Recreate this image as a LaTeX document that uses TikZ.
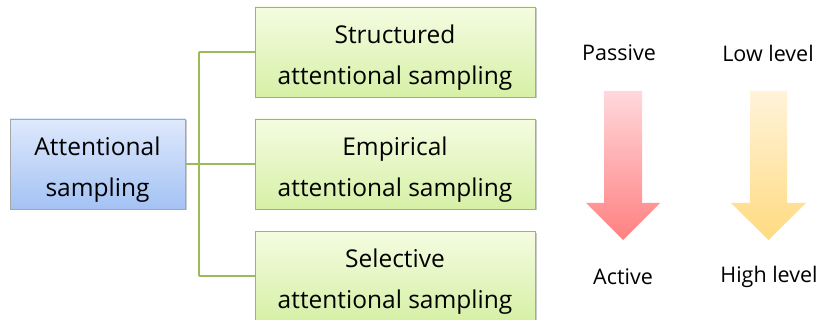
\documentclass[tikz,border=0pt]{standalone}
\usepackage{fontspec}
\setmainfont{Open Sans}
\usetikzlibrary{shadows}
\definecolor{linkgreen}{HTML}{9BBB59}
\definecolor{boxedge}{HTML}{A6A6A6}
% taller first line, pushes the two-line text a little lower in its box
\newcommand{\firststrut}{\rule{0pt}{29pt}}
\tikzset{
  box/.style={draw=boxedge, line width=0.8pt, align=center, inner sep=0pt,
    font=\fontsize{24.5}{41}\selectfont,
    drop shadow={shadow xshift=1.5pt, shadow yshift=-1.5pt, opacity=0.35, fill=black!60}},
  rootbox/.style={box, minimum width=175pt, minimum height=90pt,
    top color={rgb,255:red,222;green,233;blue,252}, bottom color={rgb,255:red,164;green,194;blue,244}},
  leafbox/.style={box, minimum width=280pt, minimum height=90pt,
    top color={rgb,255:red,245;green,252;blue,225}, bottom color={rgb,255:red,214;green,240;blue,166}},
  link/.style={draw=linkgreen, line width=2.2pt},
  lbl/.style={font=\fontsize{21.5}{25}\selectfont, inner sep=0pt}
}
\begin{document}
\begin{tikzpicture}[x=1pt, y=-1pt]
\useasboundingbox (0,0) rectangle (826,320);

% main concept and its three kinds
\node[rootbox] (root) at (97.5,164) {\firststrut Attentional\\sampling};
\node[leafbox] (s) at (395,52) {\firststrut Structured\\attentional sampling};
\node[leafbox] (e) at (395,164) {\firststrut Empirical\\attentional sampling};
\node[leafbox] (l) at (395,276) {\firststrut Selective\\attentional sampling};

% tree connectors
\coordinate (fork) at (199,164);
\draw[link] (root.east) -- (fork);
\draw[link] (fork |- s.west) -- (fork |- l.west);
\draw[link] (fork |- s.west) -- (s.west);
\draw[link] (fork) -- (e.west);
\draw[link] (fork |- l.west) -- (l.west);

% passive -> active
\node[lbl] (pas) at (619,53) {Passive};
\node[lbl] (act) at (623,277) {Active};
\shade[top color={rgb,255:red,255;green,216;blue,220}, bottom color={rgb,255:red,255;green,128;blue,128}]
  (604,91) -- (642,91) -- (642,203) -- (660,203) -- (623,240) -- (586,203) -- (604,203) -- cycle;

% low level -> high level
\node[lbl] (low) at (768,53) {Low level};
\node[lbl] (high) at (769,277) {High level};
\shade[top color={rgb,255:red,255;green,243;blue,218}, bottom color={rgb,255:red,255;green,218;blue,128}]
  (750,91) -- (787,91) -- (787,203) -- (806,203) -- (768.5,240) -- (731,203) -- (750,203) -- cycle;
\end{tikzpicture}
\end{document}
